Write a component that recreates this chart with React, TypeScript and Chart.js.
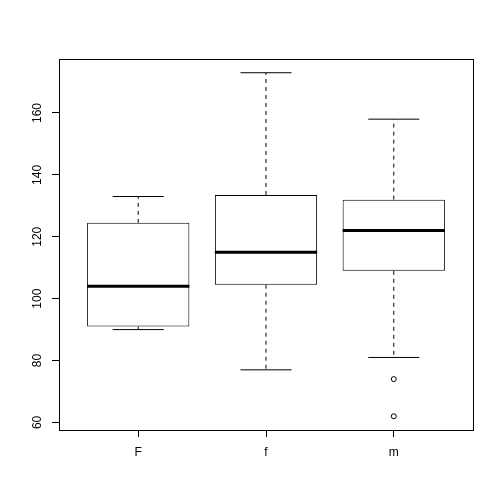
import { useEffect, useRef } from 'react';
import { Chart, registerables } from 'chart.js';

Chart.register(...registerables);

// five-number summaries per group
const groups = ['F', 'f', 'm'];
const lowerWhisker = [90, 77, 81];
const lowerQuartile = [91, 104.5, 109];
const medians = [104, 115, 122];
const upperQuartile = [124.5, 133.5, 132];
const upperWhisker = [133, 173, 158];
const outlierGroup = ['m', 'm'];
const outlierValues = [74, 62];
const yTicks = [60, 80, 100, 120, 140, 160];

const FONT = "'Liberation Sans', Arial, Helvetica, sans-serif";
const BOX_HALF = 0.4;
const CAP_HALF = 0.2;

const allValues = [...lowerWhisker, ...upperWhisker, ...outlierValues];
const dataMin = Math.min(...allValues);
const dataMax = Math.max(...allValues);
const yPad = (dataMax - dataMin) * 0.04;
const xPad = (groups.length) * 0.04;

const frame = {
  id: 'frame',
  afterDatasetsDraw(chart: Chart) {
    const { ctx, chartArea } = chart;
    ctx.save();
    ctx.strokeStyle = '#000';
    ctx.lineWidth = 1;
    ctx.strokeRect(
      Math.round(chartArea.left) + 0.5,
      Math.round(chartArea.top) + 0.5,
      Math.round(chartArea.right - chartArea.left),
      Math.round(chartArea.bottom - chartArea.top)
    );
    ctx.restore();
  },
};

const lineStyle = {
  type: 'line' as const,
  borderColor: '#000',
  borderWidth: 1,
  pointRadius: 0,
  spanGaps: false,
  fill: false,
  tension: 0,
};

const BoxPlot = () => {
  const chartRef = useRef<HTMLCanvasElement>(null);
  const chartInstance = useRef<Chart | null>(null);

  useEffect(() => {
    if (!chartRef.current) return;
    const ctx = chartRef.current.getContext('2d');
    if (!ctx) return;

    if (chartInstance.current) {
      chartInstance.current.destroy();
    }

    const whiskers = groups.flatMap((_, i) => [
      { x: i + 1, y: upperQuartile[i] },
      { x: i + 1, y: upperWhisker[i] },
      { x: i + 1, y: null },
      { x: i + 1, y: lowerQuartile[i] },
      { x: i + 1, y: lowerWhisker[i] },
      { x: i + 1, y: null },
    ]);
    const caps = groups.flatMap((_, i) => [
      { x: i + 1 - CAP_HALF, y: upperWhisker[i] },
      { x: i + 1 + CAP_HALF, y: upperWhisker[i] },
      { x: i + 1, y: null },
      { x: i + 1 - CAP_HALF, y: lowerWhisker[i] },
      { x: i + 1 + CAP_HALF, y: lowerWhisker[i] },
      { x: i + 1, y: null },
    ]);
    const medianLines = groups.flatMap((_, i) => [
      { x: i + 1 - BOX_HALF, y: medians[i] },
      { x: i + 1 + BOX_HALF, y: medians[i] },
      { x: i + 1, y: null },
    ]);

    chartInstance.current = new Chart(ctx, {
      type: 'line',
      data: {
        datasets: [
          {
            ...lineStyle,
            label: 'whiskers',
            data: whiskers,
            borderDash: [4, 4],
            order: 4,
          },
          {
            ...lineStyle,
            label: 'caps',
            data: caps,
            order: 3,
          },
          {
            type: 'bar',
            label: 'boxes',
            data: groups.map((_, i) => ({ x: i + 1, y: [lowerQuartile[i], upperQuartile[i]] })),
            backgroundColor: '#fff',
            borderColor: '#000',
            borderWidth: 1,
            borderSkipped: false,
            barPercentage: BOX_HALF * 2,
            categoryPercentage: 1,
            order: 2,
          },
          {
            ...lineStyle,
            label: 'median',
            data: medianLines,
            borderWidth: 3,
            order: 1,
          },
          {
            type: 'line',
            label: 'outliers',
            data: outlierValues.map((v, i) => ({ x: groups.indexOf(outlierGroup[i]) + 1, y: v })),
            showLine: false,
            pointRadius: 2.5,
            pointStyle: 'circle',
            pointBackgroundColor: 'rgba(0,0,0,0)',
            pointBorderColor: '#000',
            pointBorderWidth: 1,
            order: 0,
          },
        ] as any,
      },
      options: {
        responsive: false,
        animation: false,
        layout: { padding: { top: 59, right: 31, left: 0, bottom: 0 } },
        plugins: {
          legend: { display: false },
          tooltip: { enabled: false },
        },
        scales: {
          x: {
            type: 'linear',
            min: 0.5 - xPad,
            max: groups.length + 0.5 + xPad,
            offset: false,
            border: { display: false },
            grid: {
              offset: false,
              drawOnChartArea: false,
              drawTicks: true,
              tickLength: 7,
              color: '#000',
            },
            ticks: {
              stepSize: 1,
              includeBounds: false,
              autoSkip: false,
              maxRotation: 0,
              padding: 8,
              color: '#000',
              font: { family: FONT, size: 12 },
              callback: (v) => groups[Number(v) - 1] ?? '',
            },
            afterFit: (s) => {
              s.height = 74;
            },
          },
          y: {
            type: 'linear',
            min: dataMin - yPad,
            max: dataMax + yPad,
            border: { display: false },
            grid: {
              offset: false,
              drawOnChartArea: false,
              drawTicks: true,
              tickLength: 7,
              color: '#000',
            },
            afterBuildTicks: (s) => {
              s.ticks = yTicks.map((value) => ({ value }));
            },
            ticks: {
              includeBounds: false,
              minRotation: 90,
              maxRotation: 90,
              crossAlign: 'center',
              padding: 4,
              color: '#000',
              font: { family: FONT, size: 12 },
            },
            afterFit: (s) => {
              s.width = 59;
            },
          },
        },
      },
      plugins: [frame],
    });

    return () => {
      if (chartInstance.current) {
        chartInstance.current.destroy();
        chartInstance.current = null;
      }
    };
  }, []);

  return (
    <div style={{ position: 'absolute', left: 0, top: 0, width: 504, height: 504, background: '#fff' }}>
      <canvas ref={chartRef} width={504} height={504} />
    </div>
  );
};

export default function App() {
  return <BoxPlot />;
}
